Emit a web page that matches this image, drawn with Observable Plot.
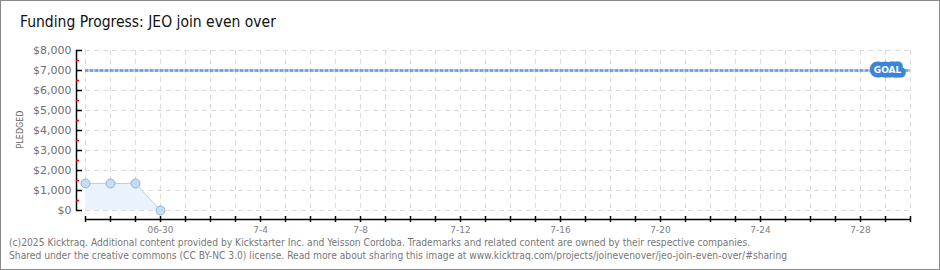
<!DOCTYPE html>
<html><head><meta charset="utf-8">
<script src="https://cdn.jsdelivr.net/npm/d3@7"></script>
<script src="https://cdn.jsdelivr.net/npm/@observablehq/plot@0.6"></script>
<style>
html,body{margin:0;padding:0;background:#fff;}
#wrap{position:relative;width:940px;height:270px;overflow:hidden;background:#fff;}
#border{position:absolute;left:0;top:0;width:940px;height:270px;box-sizing:border-box;border:1px solid #8a8a8a;pointer-events:none;}
#title{position:absolute;left:20px;top:13px;font-family:"DejaVu Sans Condensed","DejaVu Sans",sans-serif;font-weight:200;font-size:15.5px;color:#111;white-space:nowrap;}
#foot{position:absolute;left:9px;top:236px;font-family:"DejaVu Sans Condensed","DejaVu Sans",sans-serif;font-size:10.2px;line-height:13px;color:#777;white-space:nowrap;}
#chart{position:absolute;left:0;top:0;}
</style></head>
<body>
<div id="wrap">
<div id="chart"></div>
<div id="title">Funding Progress: JEO join even over</div>
<div id="foot">(c)2025 Kicktraq. Additional content provided by Kickstarter Inc. and Yeisson Cordoba. Trademarks and related content are owned by their respective companies.<br>Shared under the creative commons (CC BY-NC 3.0) license. Read more about sharing this image at www.kicktraq.com/projects/joinevenover/jeo-join-even-over/#sharing</div>
<div id="border"></div>
</div>
<script>
const dates = ["2025-06-27","2025-06-28","2025-06-29","2025-06-30"];
const pledged = [1350, 1350, 1350, 0];
const goal = 7000;
const xStart = "2025-06-27";
const xEnd = "2025-07-30";
const xTickDates = ["2025-06-30","2025-07-04","2025-07-08","2025-07-12","2025-07-16","2025-07-20","2025-07-24","2025-07-28"];
const xTickLabels = ["06-30","7-4","7-8","7-12","7-16","7-20","7-24","7-28"];
const yMajor = [0,1000,2000,3000,4000,5000,6000,7000,8000];
const yMinor = [500,1500,2500,3500,4500,5500,6500,7500];

const parse = d3.utcParse("%Y-%m-%d");
const data = dates.map((d,i)=>({date: parse(d), value: pledged[i]}));
const x0 = parse(xStart), x1 = parse(xEnd);
const days = d3.utcDay.range(x0, d3.utcDay.offset(x1,1));
const labelMap = new Map(xTickDates.map((d,i)=>[+parse(d), xTickLabels[i]]));
const labelDates = xTickDates.map(parse);

const font = "'DejaVu Sans', sans-serif";
const chart = Plot.plot({
  width: 940, height: 270,
  marginLeft: 85, marginRight: 30, marginTop: 50, marginBottom: 60,
  style: {fontFamily: font, background: "transparent"},
  x: {type: "utc", domain: [x0, x1]},
  y: {domain: [0, 8000]},
  marks: [
    Plot.gridX(days, {stroke: "#dcdcdc", strokeOpacity: 1, strokeDasharray: "5,4"}),
    Plot.gridY(yMajor, {stroke: "#dcdcdc", strokeOpacity: 1, strokeDasharray: "5,4"}),
    Plot.areaY(data, {x: "date", y: "value", fill: "#eaf3fd"}),
    Plot.lineY(data, {x: "date", y: "value", stroke: "#b5d1f0", strokeWidth: 1}),
    Plot.ruleY([goal], {stroke: "#a8c5ea", strokeWidth: 2.5}),
    Plot.ruleY([goal], {stroke: "#6f9fd8", strokeWidth: 2.5, strokeDasharray: "3,2"}),
    Plot.dot(data, {x: "date", y: "value", r: 4.5, fill: "#c4dcf6", stroke: "#8fb3da", strokeWidth: 1}),
    // y axis
    Plot.ruleX([x0], {dx: -9, stroke: "#000", strokeWidth: 1.5}),
    Plot.axisY({ticks: yMinor, tickSize: 3, dx: -6, stroke: "#e00", strokeWidth: 1.5, text: null, label: null}),
    Plot.axisY({ticks: yMajor, tickSize: 6, dx: -3, tickPadding: 5, stroke: "#000", strokeWidth: 1.5,
      tickFormat: d3.format("$,"), fontSize: 11, fill: "#707070", label: null}),
    // x axis
    Plot.ruleY([0], {dy: 9, stroke: "#000", strokeWidth: 1.5}),
    Plot.axisX({ticks: days, tickSize: 6, dy: 6, stroke: "#000", strokeWidth: 1.5, text: null, label: null}),
    Plot.axisX({ticks: labelDates, tickSize: 0, tickPadding: 16, tickFormat: d => labelMap.get(+d), fontSize: 9, fill: "#808080", label: null}),
    // goal label
    Plot.text([goal], {y: d => d, frameAnchor: "right", dx: -23, text: () => "GOAL", fill: "#fff",
      stroke: "#3b84d6", strokeWidth: 9, strokeLinejoin: "round", paintOrder: "stroke", fontSize: 9, fontWeight: "bold", textAnchor: "middle"}),
    // y label
    Plot.text(["PLEDGED"], {x: x0, y: 4000, dx: -65, dy: -1, rotate: -90, text: d => d, fontSize: 8, fill: "#666", textAnchor: "middle", letterSpacing: 1.6})
  ]
});
document.getElementById("chart").appendChild(chart);
</script>
</body></html>
